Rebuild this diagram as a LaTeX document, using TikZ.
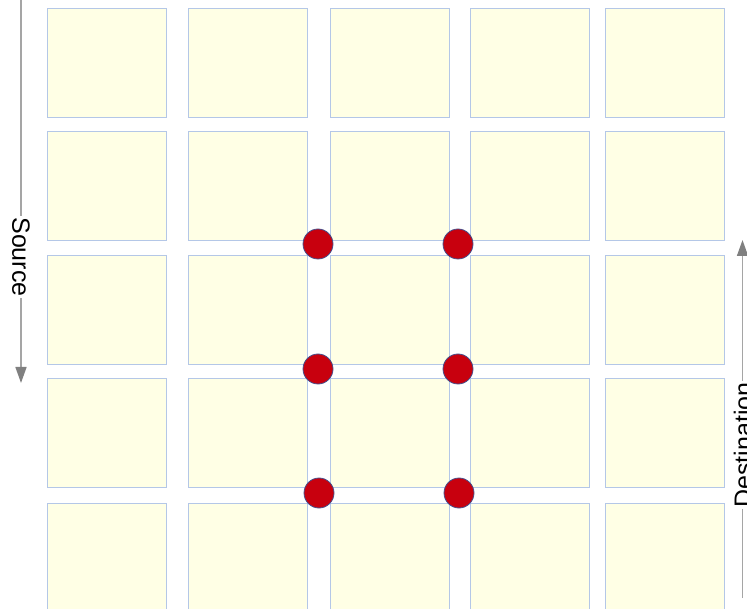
\documentclass[tikz,border=0pt]{standalone}
\usepackage{fontspec}
\setmainfont{Liberation Sans}
\usetikzlibrary{arrows.meta}
\definecolor{cellfill}{RGB}{255,255,229}
\definecolor{celledge}{RGB}{180,199,231}
\definecolor{dotred}{RGB}{200,0,14}
\definecolor{dotedge}{RGB}{70,80,140}
\definecolor{axisgray}{RGB}{165,165,165}
\definecolor{headgray}{RGB}{128,128,128}
\tikzset{
  cell/.style={draw=celledge,fill=cellfill,line width=1.4pt,minimum width=119pt,minimum height=109pt,inner sep=0pt,anchor=north west},
  hit/.style={circle,draw=dotedge,fill=dotred,line width=.8pt,minimum size=30pt,inner sep=0pt},
  dirline/.style={axisgray,line width=1.5pt,-{Triangle[length=16pt,width=11pt,color=headgray]}},
  dirlabel/.style={fill=white,inner sep=1pt,text=black,font=\fontsize{25}{30}\selectfont}
}
\begin{document}
\begin{tikzpicture}[x=1pt,y=-1pt]
  \useasboundingbox (0,0) rectangle (747,609);
  \clip (0,0) rectangle (747,609);
  \foreach \r/\y in {1/8,2/131,3/255,4/378,5/503}
    \foreach \c/\x in {1/46.5,2/187.5,3/330,4/469.5,5/604.5}
      \node[cell] (sq-\r-\c) at (\x,\y) {};
  % crossings
  \node[hit] (hit-a) at (318,244) {};
  \node[hit] (hit-b) at (458,244) {};
  \node[hit] (hit-c) at (318,369) {};
  \node[hit] (hit-d) at (458,369) {};
  \node[hit] (hit-e) at (319,493) {};
  \node[hit] (hit-f) at (459,493) {};
  % direction arrows
  \coordinate (srctop) at (21,-5);
  \coordinate (srcend) at (21,383);
  \draw[dirline] (srctop) -- (srcend);
  \node[dirlabel,rotate=-90] (src) at (21,257) {Source};
  \coordinate (dstbot) at (742.5,598);
  \coordinate (dsttop) at (742.5,240);
  \draw[dirline] (dstbot) -- (dsttop);
  \node[dirlabel,rotate=90] (dst) at (743,445) {Destination};
\end{tikzpicture}
\end{document}
